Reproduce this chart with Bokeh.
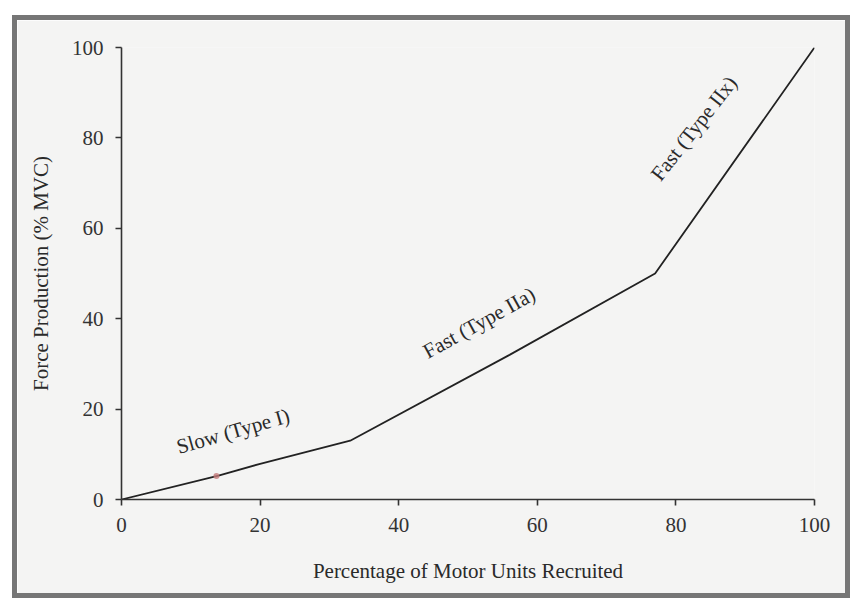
from bokeh.plotting import figure
from bokeh.models import Range1d, FixedTicker, ColumnDataSource
from bokeh.core.properties import value
from bokeh.embed import file_html
from bokeh.resources import INLINE

# Data
recruited = [0, 14, 20, 33, 56, 77, 100]
force = [0, 5.3, 7.9, 13, 32, 50, 100]

labels = ["Slow (Type I)", "Fast (Type IIa)", "Fast (Type IIx)"]
label_x = [16.1, 51.6, 82.6]
label_y = [15.1, 39.1, 82.1]
label_angle = [16, 29, 52]

marker_x = [13.7]
marker_y = [5.2]

x_ticks = [0, 20, 40, 60, 80, 100]
y_ticks = [0, 20, 40, 60, 80, 100]

SERIF = "Liberation Serif"
BG = "#f4f4f3"

p = figure(width=838, height=583, output_backend="svg", toolbar_location=None,
           x_range=Range1d(0, 100), y_range=Range1d(0, 100),
           min_border_left=104, min_border_right=41, min_border_top=27,
           min_border_bottom=104)
p.styles = {"margin-left": "12px", "margin-top": "15px", "margin-bottom": "2px",
            "border": "5px solid #767676"}
p.background_fill_color = BG
p.border_fill_color = BG
p.outline_line_color = None
p.grid.visible = False

p.line(recruited, force, line_color="#222222", line_width=1.8)
p.scatter(marker_x, marker_y, size=6, fill_color="#c47a7a", line_color=None, fill_alpha=0.8)

src = ColumnDataSource(dict(x=label_x, y=label_y, text=labels, angle=label_angle))
p.text(x="x", y="y", text="text", angle="angle", angle_units="deg", source=src,
       text_font=value(SERIF), text_font_size="21px", text_color="#2a2a2a",
       text_align="center", text_baseline="middle")

for ax in (p.xaxis[0], p.yaxis[0]):
    ax.axis_line_color = "#333333"
    ax.axis_line_width = 1.6
    ax.major_tick_line_color = "#333333"
    ax.major_tick_line_width = 1.6
    ax.major_tick_out = 6
    ax.major_tick_in = 0
    ax.minor_tick_line_color = None
    ax.major_label_text_font = SERIF
    ax.major_label_text_font_size = "21px"
    ax.major_label_text_color = "#333333"
    ax.axis_label_text_font = SERIF
    ax.axis_label_text_font_size = "21px"
    ax.axis_label_text_font_style = "normal"
    ax.axis_label_text_color = "#2a2a2a"

p.xaxis.ticker = FixedTicker(ticks=x_ticks)
p.yaxis.ticker = FixedTicker(ticks=y_ticks)
p.xaxis.axis_label = "Percentage of Motor Units Recruited"
p.yaxis.axis_label = "Force Production (% MVC)"
p.xaxis.major_label_standoff = 12
p.yaxis.major_label_standoff = 12
p.xaxis.axis_label_standoff = 24
p.yaxis.axis_label_standoff = 16

open("out.html", "w").write(file_html(p, INLINE))
